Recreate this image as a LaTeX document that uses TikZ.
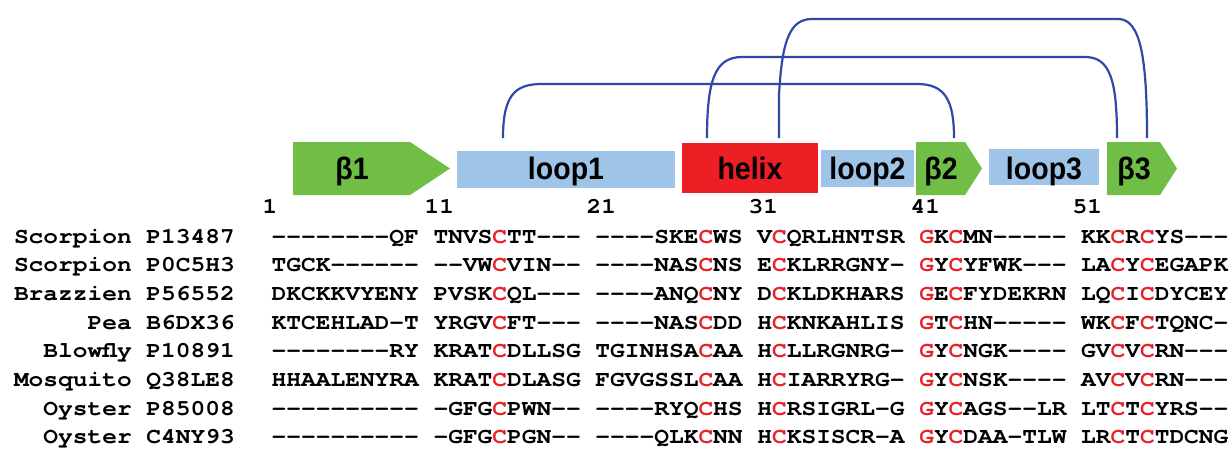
\documentclass[tikz,border=0pt]{standalone}
\usepackage{fontspec}
\newfontfamily\seqfont[FakeStretch=1.1,Ligatures=TeXOff]{TeX Gyre Cursor}
\newfontfamily\lblfont[FakeStretch=0.92]{Liberation Sans}
\definecolor{bgreen}{RGB}{112,190,70}
\definecolor{lblue}{RGB}{158,196,232}
\definecolor{hred}{RGB}{237,30,36}
\definecolor{cred}{RGB}{232,32,40}
\definecolor{bondblue}{RGB}{46,74,165}
\newcommand\myred[1]{\textcolor{cred}{#1}}
\begin{document}
\begin{tikzpicture}[x=1pt,y=-1pt,
  seq/.style={font=\seqfont\bfseries\fontsize{22.3}{26}\selectfont, anchor=base west, inner sep=0pt},
  spname/.style={font=\seqfont\bfseries\fontsize{22.3}{26}\selectfont, anchor=base east, inner sep=0pt},
  resnum/.style={font=\seqfont\bfseries\fontsize{22.3}{26}\selectfont, anchor=base west, inner sep=0pt},
  lbl/.style={font=\lblfont\bfseries\fontsize{31}{34}\selectfont, anchor=base, inner sep=0pt},
  loopbox/.style={fill=lblue, draw=none, inner sep=0pt},
  helixbox/.style={fill=hred, draw=none, inner sep=0pt},
  strand/.style={fill=bgreen, draw=none},
  bond/.style={draw=bondblue, line width=2.2pt}]
\useasboundingbox (0,0) rectangle (1230,451);

% secondary structure elements
\path[strand] (293,142) -- (410,142) -- (450,168.5) -- (410,195) -- (293,195) -- cycle;
\path[strand] (916,142) -- (965,142) -- (982,168.5) -- (965,195) -- (916,195) -- cycle;
\path[strand] (1107,142) -- (1160,142) -- (1177,168.5) -- (1160,195) -- (1107,195) -- cycle;
\node[loopbox, minimum width=218pt, minimum height=37pt] (loop1box) at (566,169.5) {};
\node[helixbox, minimum width=136pt, minimum height=50pt] (helixbox) at (750,168) {};
\node[loopbox, minimum width=93pt, minimum height=37pt] (loop2box) at (867.5,168.5) {};
\node[loopbox, minimum width=110pt, minimum height=36pt] (loop3box) at (1044,167) {};

\node[lbl] (b1) at (352,179.5) {β1};
\node[lbl] (l1) at (566,179.5) {loop1};
\node[lbl] (hx) at (750,179.5) {helix};
\node[lbl] (l2) at (867.5,179.5) {loop2};
\node[lbl] (b2) at (941,179.5) {β2};
\node[lbl] (l3) at (1044,179.5) {loop3};
\node[lbl] (b3) at (1134,179.5) {β3};

% disulfide connectors
\coordinate (c1s) at (503,138);
\coordinate (c1e) at (954,138);
\coordinate (c2s) at (707,138);
\coordinate (c2e) at (1117,138);
\coordinate (c3s) at (779,138);
\coordinate (c3e) at (1147,138);
\draw[bond] (c1s) .. controls (503,95) and (515,84) .. (542,84) -- (917,84)
  .. controls (945,84) and (954,100) .. (c1e);
\draw[bond] (c2s) .. controls (707,80) and (715,57) .. (742,57) -- (1085,57)
  .. controls (1110,57) and (1117,80) .. (c2e);
\draw[bond] (c3s) -- (779,95) .. controls (782,40) and (790,19) .. (812,19) -- (1118,19)
  .. controls (1140,19) and (1147,55) .. (c3e);

% residue numbers
\node[resnum] (n1) at (262.5,213) {1};
\node[resnum] (n11) at (424.5,213) {11};
\node[resnum] (n21) at (586.5,213) {21};
\node[resnum] (n31) at (748.5,213) {31};
\node[resnum] (n41) at (910.5,213) {41};
\node[resnum] (n51) at (1072.5,213) {51};

% species names
\node[spname] (s1) at (235,243) {Scorpion P13487};
\node[spname] (s2) at (235,271.7) {Scorpion P0C5H3};
\node[spname] (s3) at (235,300.4) {Brazzien P56552};
\node[spname] (s4) at (235,329.1) {Pea B6DX36};
\node[spname] (s5) at (235,357.8) {Blowfly P10891};
\node[spname] (s6) at (235,386.5) {Mosquito Q38LE8};
\node[spname] (s7) at (235,415.2) {Oyster P85008};
\node[spname] (s8) at (235,443.9) {Oyster C4NY93};

% sequences
\node[seq] (q1) at (271.5,243) {--------QF TNVS\myred{C}TT--- ----SKE\myred{C}WS V\myred{C}QRLHNTSR \myred{G}K\myred{C}MN----- KK\myred{C}R\myred{C}YS---};
\node[seq] (q2) at (271.5,271.7) {TGCK------ --VW\myred{C}VIN-- ----NAS\myred{C}NS E\myred{C}KLRRGNY- \myred{G}Y\myred{C}YFWK--- LA\myred{C}Y\myred{C}EGAPK};
\node[seq] (q3) at (271.5,300.4) {DKCKKVYENY PVSK\myred{C}QL--- ----ANQ\myred{C}NY D\myred{C}KLDKHARS \myred{G}E\myred{C}FYDEKRN LQ\myred{C}I\myred{C}DYCEY};
\node[seq] (q4) at (271.5,329.1) {KTCEHLAD-T YRGV\myred{C}FT--- ----NAS\myred{C}DD H\myred{C}KNKAHLIS \myred{G}T\myred{C}HN----- WK\myred{C}F\myred{C}TQNC-};
\node[seq] (q5) at (271.5,357.8) {--------RY KRAT\myred{C}DLLSG TGINHSA\myred{C}AA H\myred{C}LLRGNRG- \myred{G}Y\myred{C}NGK---- GV\myred{C}V\myred{C}RN---};
\node[seq] (q6) at (271.5,386.5) {HHAALENYRA KRAT\myred{C}DLASG FGVGSSL\myred{C}AA H\myred{C}IARRYRG- \myred{G}Y\myred{C}NSK---- AV\myred{C}V\myred{C}RN---};
\node[seq] (q7) at (271.5,415.2) {---------- -GFG\myred{C}PWN-- ----RYQ\myred{C}HS H\myred{C}RSIGRL-G \myred{G}Y\myred{C}AGS--LR LT\myred{C}T\myred{C}YRS--};
\node[seq] (q8) at (271.5,443.9) {---------- -GFG\myred{C}PGN-- ----QLK\myred{C}NN H\myred{C}KSISCR-A \myred{G}Y\myred{C}DAA-TLW LR\myred{C}T\myred{C}TDCNG};
\end{tikzpicture}
\end{document}
